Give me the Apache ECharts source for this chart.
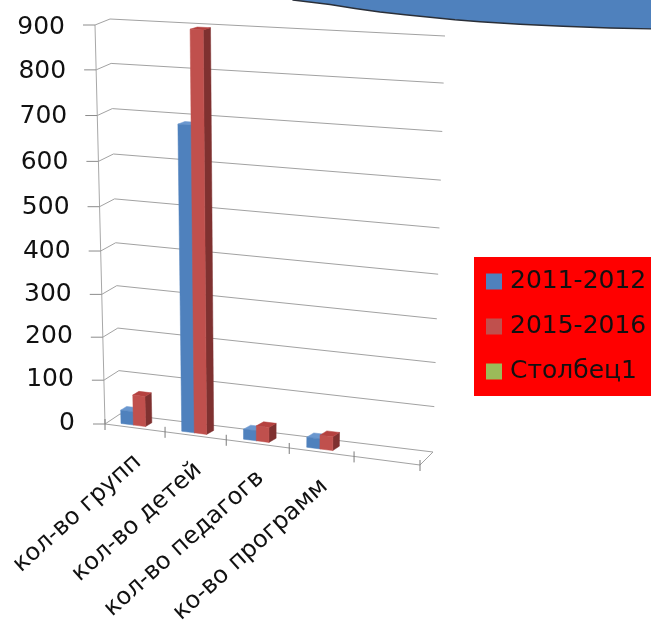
<!DOCTYPE html>
<html><head><meta charset="utf-8">
<style>html,body{margin:0;padding:0;background:#fff}#c{width:651px;height:630px;filter:blur(0.6px)}</style>
<script src="https://cdn.jsdelivr.net/npm/echarts@6/dist/echarts.min.js"></script>
</head><body><div id="c"></div>
<script>
const categories = ['кол-во групп','кол-во детей','кол-во педагогв','ко-во программ',''];
const series2011 = [30, 690, 22, 22];
const series2015 = [68, 898, 33, 30];
const seriesExtra = [];
const valueTicks = [0,100,200,300,400,500,600,700,800,900];
const seriesNames = ['2011-2012','2015-2016','Столбец1'];
const FONT = '"DejaVu Sans", sans-serif';

// view geometry of the tilted chart box (pixel corners)
const A=[105,424],B=[420,465],H=[431,42],E=[95,25];
const C=[120,414],D=[433,452],G=[445,36],F=[110,19];
const GRID={left:105,top:25,width:315,height:399};
function mix(p,q,k){return [p[0]+(q[0]-p[0])*k,p[1]+(q[1]-p[1])*k];}
function proj(u,t,d){
  const s=Math.sin(Math.PI*t), su=Math.sin(Math.PI*u);
  const tt=t-((4.5+2.5*u)/399)*s*s;
  const uu=u-(5/315)*su;
  const f=mix(mix(A,B,uu),mix(E,H,uu),tt), b=mix(mix(C,D,u),mix(F,G,u),tt);
  return mix(f,b,d);
}
function norm(pt){return [(pt[0]-GRID.left)/GRID.width,(GRID.top+GRID.height-pt[1])/GRID.height];}
function poly(points,fill){return {type:'polygon',shape:{points},style:{fill,stroke:fill,lineWidth:0.5}};}
function barItem(startFrac,widthFrac,front,side,top){
  return function(params,api){
    const cat=api.value(0),val=api.value(1);
    if(val==null||isNaN(val))return null;
    const band=api.size([1,0])[0]/GRID.width;
    const p=norm(api.coord([cat,val])), p0=norm(api.coord([cat,0]));
    const u0=p[0]-band/2+band*startFrac,u1=u0+band*widthFrac,t=p[1],b=p0[1];
    const d0=0.22,d1=0.6;
    return {type:'group',children:[
      poly([proj(u1,b,d0),proj(u1,b,d1),proj(u1,t,d1),proj(u1,t,d0)],side),
      poly([proj(u0,t,d0),proj(u1,t,d0),proj(u1,t,d1),proj(u0,t,d1)],top),
      poly([proj(u0,b,d0),proj(u1,b,d0),proj(u1,t,d0),proj(u0,t,d0)],front)
    ]};
  };
}
const line=(a,b,c)=>({type:'line',shape:{x1:a[0],y1:a[1],x2:b[0],y2:b[1]},style:{stroke:c||'#a2a2a2',lineWidth:1}});
const chart=echarts.init(document.getElementById('c'),null,{renderer:'canvas'});
chart.setOption({
  animation:false,
  backgroundColor:'#fff',
  graphic:[{type:'polygon',z:10,shape:{points:[[293,0],[330,4.5],[355,8.5],[380,12],[405,14.8],[430,17.2],[455,19.8],[480,21.8],[520,24.2],[563,26.3],[610,28],[655,29],[655,-5],[293,-5]]},
    style:{fill:'#4f81bd',stroke:'#2a2f38',lineWidth:1.4}}],
  legend:{show:true,orient:'vertical',left:474,top:257,icon:'rect',itemWidth:16,itemHeight:16,itemGap:20,
    padding:[12,20,12,12],backgroundColor:'#ff0000',borderRadius:0,
    textStyle:{fontFamily:FONT,fontSize:25,color:'#111',padding:[0,0,0,3]},data:seriesNames},
  grid:GRID,
  xAxis:{type:'category',data:categories,show:false},
  yAxis:{type:'value',min:0,max:900,interval:100,show:false},
  series:[
    {type:'custom',name:'walls',silent:true,clip:false,z:1,data:valueTicks.map(v=>[0,v]),
     encode:{x:0,y:1},
     renderItem(params,api){
       const t=norm(api.coord([0,api.value(1)]))[1];
       const a=proj(0,t,0),b=proj(0,t,1),c=proj(1,t,1);
       const kids=[line([a[0]-12,a[1]],a,'#8c8c8c'),line(a,b),line(b,c)];
       if(params.dataIndex===0){
         kids.push(line(proj(0,0,0),proj(0,1,0),'#a8a8a8'));
         kids.push(line(proj(0,0,0),proj(1,0,0)),line(proj(1,0,0),proj(1,0,1)));
       }
       return {type:'group',children:kids};
     }},
    {type:'custom',name:'ticks',silent:true,clip:false,z:1,data:[0,1,2,3,4,5].map(i=>[0,i]),
     encode:{x:0,y:1},
     renderItem(params,api){
       const band=api.size([1,0])[0]/GRID.width;
       const u=api.value(1)*band;
       const p=proj(u,0,0);
       return line([p[0],p[1]-5],[p[0],p[1]+6],'#7a7a7a');
     }},
    {type:'custom',name:'yLabels',silent:true,clip:false,z:5,data:valueTicks.map(v=>[0,v]),
     encode:{x:0,y:1},
     renderItem(params,api){
       const v=api.value(1),t=norm(api.coord([0,v]))[1],p=proj(0,t,0);
       return {type:'text',x:p[0]-30,y:p[1]+2-3*(1-t),style:{text:String(v),align:'right',verticalAlign:'middle',
         fontFamily:FONT,fontSize:25,fill:'#111'}};
     }},
    {type:'custom',name:'xLabels',silent:true,clip:false,z:5,data:categories.slice(0,4).map((c,i)=>[i,0]),
     encode:{x:0,y:1},
     renderItem(params,api){
       const i=api.value(0),n=norm(api.coord([i,0])),p=proj(n[0],0,0);
       return {type:'text',x:p[0]+3,y:p[1]+31,rotation:42*Math.PI/180,
         style:{text:categories[i],align:'right',verticalAlign:'middle',fontFamily:FONT,fontSize:24,fill:'#111'}};
     }},
    {type:'custom',name:seriesNames[0],clip:false,z:3,itemStyle:{color:'#4f81bd'},encode:{x:0,y:1},
     data:series2011.map((v,i)=>[i,v]),renderItem:barItem(0.21,0.21,'#4f81bd','#3a6596','#6a97cf')},
    {type:'custom',name:seriesNames[1],clip:false,z:4,itemStyle:{color:'#c0504d'},encode:{x:0,y:1},
     data:series2015.map((v,i)=>[i,v]),renderItem:barItem(0.415,0.2,'#c0504d','#7f3130','#b5413f')},
    {type:'custom',name:seriesNames[2],clip:false,z:4,itemStyle:{color:'#9bbb59'},encode:{x:0,y:1},
     data:seriesExtra,renderItem:barItem(0.62,0.2,'#9bbb59','#76903f','#aac86a')}
  ]
});
</script></body></html>
